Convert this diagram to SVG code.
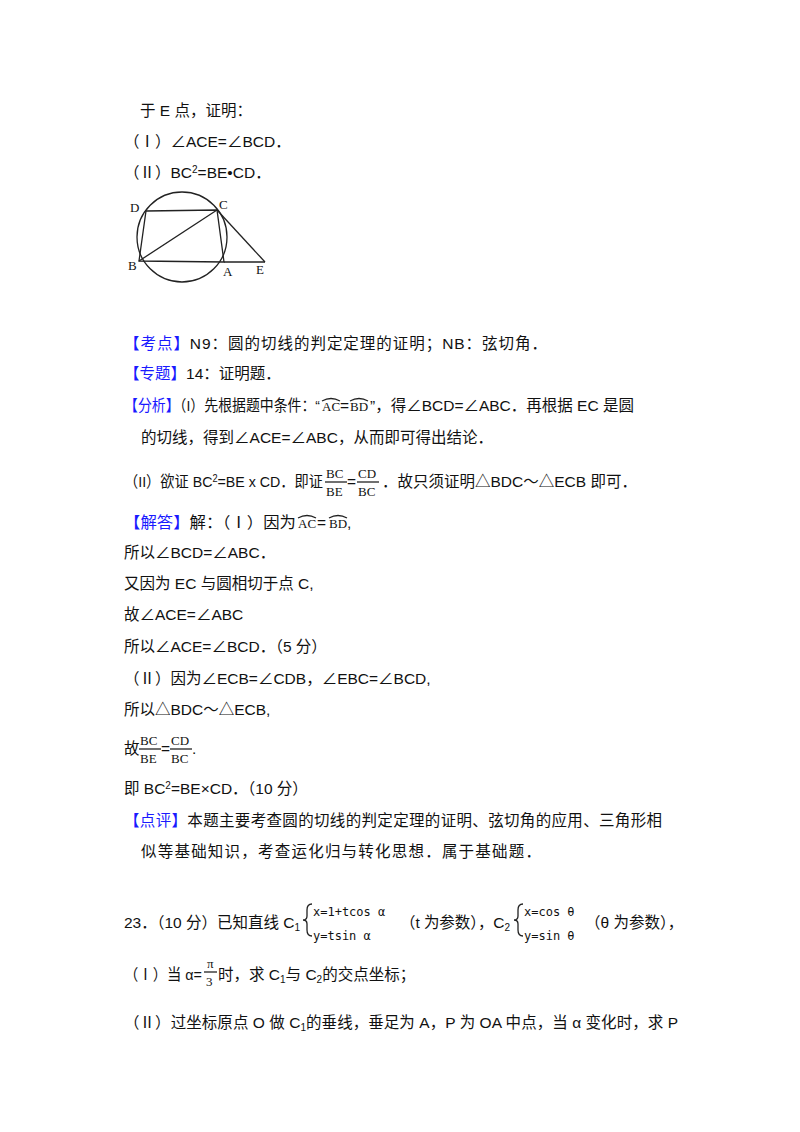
<svg xmlns="http://www.w3.org/2000/svg" width="800" height="1132" viewBox="0 0 800 1132">
<style>
text{font-family:"Liberation Sans","Noto Sans CJK SC",sans-serif;font-size:15.5px;fill:#111}
.b{fill:#1a1aff}
.s{font-family:"Liberation Serif","Noto Sans CJK SC",serif;font-size:13px}
.m{font-family:"DejaVu Sans Mono",monospace;font-size:12px}
.sm{font-size:10px}
line,path,circle{stroke:#222;fill:none;stroke-width:1.3}
</style>
<rect width="800" height="1132" fill="#fff"/>
<text x="140" y="116">于 E 点，证明：</text>
<text x="124" y="147">（Ⅰ）∠ACE=∠BCD．</text>
<text x="124" y="178">（Ⅱ）BC<tspan class="sm" dy="-5">2</tspan><tspan dy="5">=BE•CD．</tspan></text>
<g id="figure">
<circle cx="182" cy="237" r="45"/>
<path d="M146 211 L217 210 L224 262 L139 261 Z"/>
<line x1="139" y1="261" x2="217" y2="210"/>
<line x1="217" y1="210" x2="265" y2="262"/>
<line x1="224" y1="262" x2="265" y2="262"/>
<text class="s" x="130" y="212">D</text>
<text class="s" x="219" y="209">C</text>
<text class="s" x="128" y="270">B</text>
<text class="s" x="223" y="276">A</text>
<text class="s" x="256" y="274">E</text>
</g>
<text x="124" y="349" textLength="423" lengthAdjust="spacing"><tspan class="b">【考点】</tspan>N9：圆的切线的判定定理的证明；NB：弦切角．</text>
<text x="124" y="379"><tspan class="b">【专题】</tspan>14：证明题．</text>
<text x="124" y="411" textLength="196" lengthAdjust="spacingAndGlyphs"><tspan class="b">【分析】</tspan>（I）先根据题中条件：“</text>
<text class="s" x="322" y="411">AC</text><text x="340" y="411">=</text><text class="s" x="350" y="411">BD</text>
<path d="M322 401 q9 -5 18 0 M350 401 q9 -5 18 0" stroke-width="0.9"/>
<text x="370" y="411">”，得∠BCD=∠ABC．再根据 EC 是圆</text>
<text x="141" y="443" textLength="352" lengthAdjust="spacing">的切线，得到∠ACE=∠ABC，从而即可得出结论．</text>
<text x="124" y="487" textLength="199" lengthAdjust="spacingAndGlyphs">（II）欲证 BC<tspan class="sm" dy="-5">2</tspan><tspan dy="5">=BE x CD．即证</tspan></text>
<text class="s" x="326" y="478">BC</text><line x1="325" y1="482" x2="347" y2="482" stroke-width="0.9"/><text class="s" x="326" y="496">BE</text>
<text x="347" y="487">=</text>
<text class="s" x="358" y="478">CD</text><line x1="357" y1="482" x2="379" y2="482" stroke-width="0.9"/><text class="s" x="358" y="496">BC</text>
<text x="382" y="487">．故只须证明△BDC～△ECB 即可．</text>
<text x="124" y="528" textLength="172" lengthAdjust="spacingAndGlyphs"><tspan class="b">【解答】</tspan>解：（Ⅰ）因为</text>
<text class="s" x="298" y="528">AC</text><text x="317" y="528">=</text><text class="s" x="329" y="528">BD</text><text x="347" y="528">,</text>
<path d="M298 518 q9 -5 18 0 M329 518 q9 -5 18 0" stroke-width="0.9"/>
<text x="124" y="558">所以∠BCD=∠ABC．</text>
<text x="124" y="589">又因为 EC 与圆相切于点 C,</text>
<text x="124" y="620">故∠ACE=∠ABC</text>
<text x="124" y="652">所以∠ACE=∠BCD．（5 分）</text>
<text x="124" y="684">（Ⅱ）因为∠ECB=∠CDB，∠EBC=∠BCD,</text>
<text x="124" y="715">所以△BDC～△ECB,</text>
<text x="124" y="754">故</text>
<text class="s" x="140" y="745">BC</text><line x1="139" y1="749" x2="161" y2="749" stroke-width="0.9"/><text class="s" x="140" y="763">BE</text>
<text x="161" y="754">=</text>
<text class="s" x="171" y="745">CD</text><line x1="170" y1="749" x2="192" y2="749" stroke-width="0.9"/><text class="s" x="171" y="763">BC</text>
<text x="192" y="754">.</text>
<text x="124" y="794">即 BC<tspan class="sm" dy="-5">2</tspan><tspan dy="5">=BE×CD．（10 分）</tspan></text>
<text x="124" y="826" textLength="538" lengthAdjust="spacing"><tspan class="b">【点评】</tspan>本题主要考查圆的切线的判定定理的证明、弦切角的应用、三角形相</text>
<text x="141" y="857" textLength="400" lengthAdjust="spacing">似等基础知识，考查运化归与转化思想．属于基础题．</text>
<text x="124" y="928">23．（10 分）已知直线 C<tspan class="sm" dy="3">1</tspan></text>
<path d="M312 904 q-5 0 -5 6 v6 q0 4 -4 4 q4 0 4 4 v6 q0 6 5 6" stroke-width="1"/>
<text class="m" x="313" y="916">x=1+tcos α</text>
<text class="m" x="313" y="940">y=tsin α</text>
<text x="400" y="928" textLength="110" lengthAdjust="spacing">（t 为参数），C<tspan class="sm" dy="3">2</tspan></text>
<path d="M523 904 q-5 0 -5 6 v6 q0 4 -4 4 q4 0 4 4 v6 q0 6 5 6" stroke-width="1"/>
<text class="m" x="524" y="916">x=cos θ</text>
<text class="m" x="524" y="940">y=sin θ</text>
<text x="585" y="928">（θ 为参数），</text>
<text x="124" y="980" textLength="78" lengthAdjust="spacingAndGlyphs">（Ⅰ）当 α=</text>
<text class="s" x="207" y="968">π</text><line x1="204" y1="972" x2="217" y2="972" stroke-width="0.9"/><text class="s" x="206" y="986">3</text>
<text x="218" y="980">时，求 C<tspan class="sm" dy="3">1</tspan><tspan dy="-3">与 C</tspan><tspan class="sm" dy="3">2</tspan><tspan dy="-3">的交点坐标；</tspan></text>
<text x="124" y="1028" textLength="554" lengthAdjust="spacing">（Ⅱ）过坐标原点 O 做 C<tspan class="sm" dy="3">1</tspan><tspan dy="-3">的垂线，垂足为 A，P 为 OA 中点，当 α 变化时，求 P</tspan></text>
</svg>
